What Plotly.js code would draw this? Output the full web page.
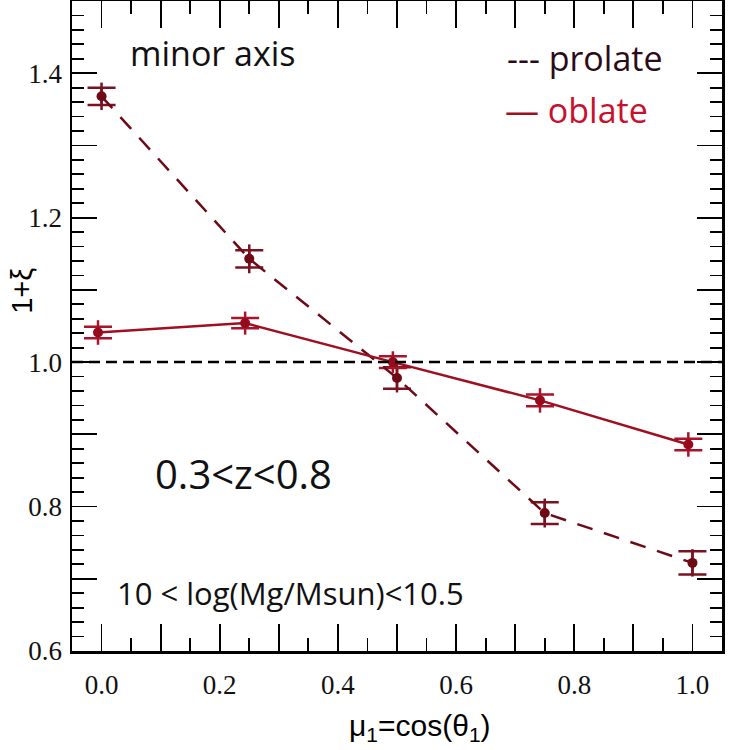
<!DOCTYPE html>
<html>
<head>
<meta charset="utf-8">
<script src="https://cdn.plot.ly/plotly-3.0.1.min.js"></script>
<style>
  body { margin: 0; background: #fff; }
  #myDiv { width: 747px; height: 750px; }
</style>
</head>
<body>
<div id="myDiv"></div>
<script>
// values
var proX = [0.0, 0.25, 0.5, 0.75, 1.0];
var proY = [1.368, 1.143, 0.978, 0.791, 0.722];
var proCap = [0.012, 0.012, 0.015, 0.015, 0.016];
var proBar = [0.019, 0.020, 0.020, 0.020, 0.019];

var oblX = [-0.006, 0.243, 0.493, 0.742, 0.993];
var oblY = [1.041, 1.054, 1.000, 0.947, 0.886];
var oblCap = [0.008, 0.007, 0.008, 0.008, 0.008];
var oblBar = [0.017, 0.016, 0.015, 0.017, 0.017];

var xTickVals = [0, 0.1, 0.2, 0.3, 0.4, 0.5, 0.6, 0.7, 0.8, 0.9, 1.0];
var xTickText = ['0.0', ' ', '0.2', ' ', '0.4', ' ', '0.6', ' ', '0.8', ' ', '1.0'];
var yTickVals = [0.6, 0.7, 0.8, 0.9, 1.0, 1.1, 1.2, 1.3, 1.4, 1.5];
var yTickText = ['0.6', ' ', '0.8', ' ', '1.0', ' ', '1.2', ' ', '1.4', ' '];

var proColor = '#6e0a16';
var oblColor = '#a00f20';

// long vertical part of the error bars (no caps)
function barTrace(x, y, e, color) {
    return {
        x: x, y: y, type: 'scatter', mode: 'markers',
        marker: {size: 1, color: 'rgba(0,0,0,0)'},
        error_y: {type: 'data', array: e, visible: true, color: color, thickness: 2.5, width: 0},
        hoverinfo: 'skip', showlegend: false
    };
}
// the wide caps
function capTrace(x, y, e, color) {
    return {
        x: x, y: y, type: 'scatter', mode: 'markers',
        marker: {size: 1, color: 'rgba(0,0,0,0)'},
        error_y: {type: 'data', array: e, visible: true, color: color, thickness: 2.5, width: 14},
        hoverinfo: 'skip', showlegend: false
    };
}

var prolate = {
    x: proX, y: proY, type: 'scatter', mode: 'lines+markers', name: 'prolate',
    line: {color: proColor, width: 2.5, dash: '16px,12px'},
    marker: {color: proColor, size: 10}
};
var oblate = {
    x: oblX, y: oblY, type: 'scatter', mode: 'lines+markers', name: 'oblate',
    line: {color: oblColor, width: 2.5},
    marker: {color: '#960a1e', size: 10}
};

var data = [
    barTrace(proX, proY, proBar, '#7a1222'),
    capTrace(proX, proY, proCap, '#7a1222'),
    barTrace(oblX, oblY, oblBar, '#a8142a'),
    capTrace(oblX, oblY, oblCap, '#a8142a'),
    prolate, oblate
];

var serif = 'Liberation Serif';
var sans = 'Open Sans';
var helv = 'Liberation Sans';

var layout = {
    width: 747,
    height: 750,
    margin: {l: 72, r: 25, t: 1, b: 99, pad: 0},
    paper_bgcolor: '#fff',
    plot_bgcolor: '#fff',
    showlegend: false,
    xaxis: {
        range: [-0.05, 1.05],
        tickmode: 'array', tickvals: xTickVals, ticktext: xTickText,
        ticks: 'inside', ticklen: 27, tickwidth: 1.8, tickcolor: '#000',
        minor: {tickmode: 'linear', tick0: 0, dtick: 0.05, ticks: 'inside', ticklen: 13, tickwidth: 1.8, tickcolor: '#000'},
        showline: true, linecolor: '#000', linewidth: 2.5, mirror: 'allticks',
        showgrid: false, zeroline: false,
        tickfont: {family: serif, size: 27, color: '#111'},
        ticklabelstandoff: 8
    },
    yaxis: {
        range: [0.6, 1.5],
        tickmode: 'array', tickvals: yTickVals, ticktext: yTickText,
        ticks: 'inside', ticklen: 25, tickwidth: 1.8, tickcolor: '#000',
        minor: {tickmode: 'linear', tick0: 0.6, dtick: 0.02, ticks: 'inside', ticklen: 12, tickwidth: 1.8, tickcolor: '#000'},
        showline: true, linecolor: '#000', linewidth: 2.5, mirror: 'allticks',
        showgrid: false, zeroline: false,
        tickfont: {family: serif, size: 27, color: '#111'},
        ticklabelstandoff: 2
    },
    shapes: [{
        type: 'line', xref: 'paper', yref: 'y', x0: 0, x1: 1, y0: 1.0, y1: 1.0,
        line: {color: '#000', width: 2.5, dash: '11px,6px'}
    }],
    annotations: [
        {x: 0.045, y: 1.428, xref: 'x', yref: 'y', xanchor: 'left', yanchor: 'middle', showarrow: false,
         text: 'minor axis', font: {family: sans, size: 34, color: '#111'}},
        {x: 0.087, y: 0.846, xref: 'x', yref: 'y', xanchor: 'left', yanchor: 'middle', showarrow: false,
         text: '0.3&lt;z&lt;0.8', font: {family: sans, size: 40, color: '#111'}},
        {x: 0.023, y: 0.681, xref: 'x', yref: 'y', xanchor: 'left', yanchor: 'middle', showarrow: false,
         text: '10 &lt; log(Mg/Msun)&lt;10.5', font: {family: sans, size: 31, color: '#111'}},
        {x: 0.683, y: 1.421, xref: 'x', yref: 'y', xanchor: 'left', yanchor: 'middle', showarrow: false,
         text: '--- prolate', font: {family: sans, size: 34, color: '#2b0b18'}},
        {x: 0.680, y: 1.349, xref: 'x', yref: 'y', xanchor: 'left', yanchor: 'middle', showarrow: false,
         text: '<span style="color:#a01020">—</span> oblate', font: {family: sans, size: 34, color: '#c8102e'}},
        {x: -0.077, y: 0.554, xref: 'paper', yref: 'paper', xanchor: 'center', yanchor: 'middle', showarrow: false,
         textangle: -90, text: '1+ξ', font: {family: helv, size: 29, color: '#000'}},
        {x: 0.535, y: -0.117, xref: 'paper', yref: 'paper', xanchor: 'center', yanchor: 'middle', showarrow: false,
         text: 'μ<sub>1</sub>=cos(θ<sub>1</sub>)', font: {family: helv, size: 30, color: '#000'}}
    ]
};

Plotly.newPlot('myDiv', data, layout, {displayModeBar: false, staticPlot: true});
</script>
</body>
</html>
